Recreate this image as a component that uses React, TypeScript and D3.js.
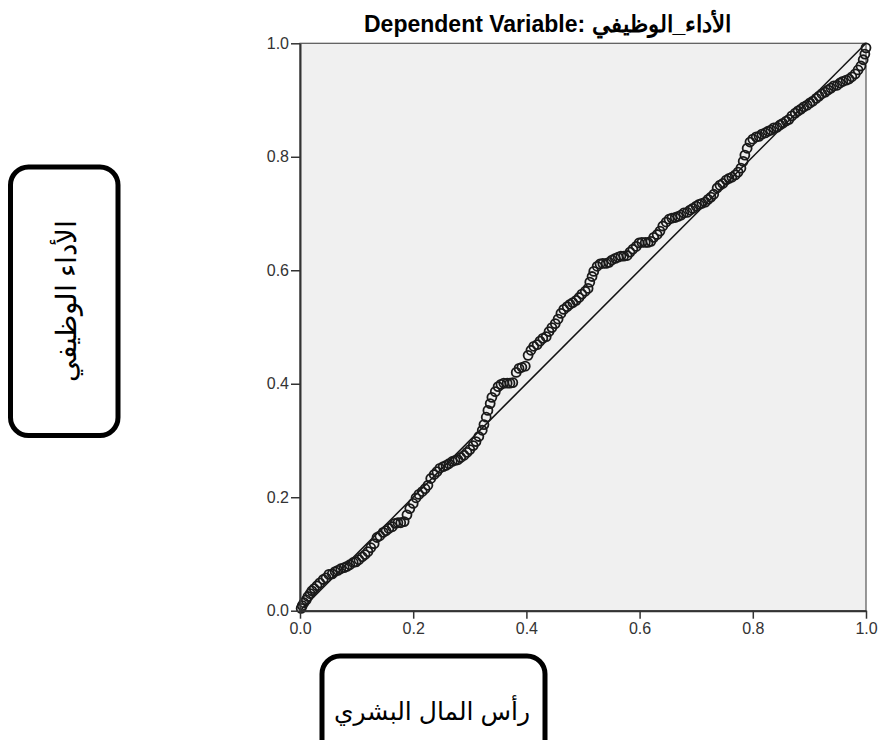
import React, { useEffect, useRef } from 'react'
import * as d3 from 'd3'

// tick values for both axes
const xTicks = [0.0, 0.2, 0.4, 0.6, 0.8, 1.0]
const yTicks = [0.0, 0.2, 0.4, 0.6, 0.8, 1.0]

const titleText = 'Dependent Variable: الأداء_الوظيفي'
const yBoxLabel = 'الأداء الوظيفي'
const xBoxLabel = 'رأس المال البشري'

const observedCum = [
  0.002, 0.004, 0.007, 0.011, 0.014, 0.018, 0.021, 0.025, 0.030, 0.035,
  0.041, 0.046, 0.051, 0.057, 0.062, 0.067, 0.072, 0.078, 0.083, 0.088,
  0.094, 0.099, 0.104, 0.110, 0.115, 0.120, 0.125, 0.131, 0.136, 0.141,
  0.147, 0.152, 0.157, 0.163, 0.168, 0.173, 0.178, 0.184, 0.189, 0.194,
  0.200, 0.205, 0.210, 0.216, 0.221, 0.226, 0.231, 0.237, 0.242, 0.247,
  0.253, 0.258, 0.263, 0.269, 0.274, 0.279, 0.284, 0.290, 0.295, 0.300,
  0.306, 0.311, 0.316, 0.322, 0.325, 0.329, 0.332, 0.336, 0.339, 0.345,
  0.350, 0.355, 0.360, 0.366, 0.371, 0.376, 0.382, 0.387, 0.392, 0.398,
  0.403, 0.408, 0.413, 0.419, 0.424, 0.429, 0.435, 0.440, 0.445, 0.451,
  0.456, 0.461, 0.466, 0.472, 0.477, 0.482, 0.488, 0.493, 0.498, 0.504,
  0.509, 0.512, 0.516, 0.519, 0.525, 0.530, 0.535, 0.541, 0.546, 0.551,
  0.557, 0.562, 0.567, 0.572, 0.578, 0.583, 0.588, 0.594, 0.599, 0.604,
  0.610, 0.615, 0.620, 0.625, 0.631, 0.636, 0.641, 0.647, 0.652, 0.657,
  0.663, 0.668, 0.673, 0.678, 0.684, 0.689, 0.694, 0.700, 0.705, 0.710,
  0.716, 0.721, 0.726, 0.731, 0.737, 0.742, 0.747, 0.753, 0.758, 0.763,
  0.769, 0.774, 0.779, 0.783, 0.786, 0.790, 0.795, 0.800, 0.806, 0.811,
  0.816, 0.822, 0.827, 0.832, 0.837, 0.843, 0.848, 0.853, 0.859, 0.864,
  0.869, 0.875, 0.880, 0.885, 0.890, 0.896, 0.901, 0.906, 0.912, 0.917,
  0.922, 0.928, 0.933, 0.938, 0.943, 0.949, 0.954, 0.959, 0.965, 0.970,
  0.975, 0.981, 0.986, 0.991, 0.995, 0.998, 1.000,
]

// expected cumulative probability (y)
const expectedCum = [
  0.004, 0.009, 0.014, 0.019, 0.025, 0.030, 0.035, 0.039, 0.044, 0.049,
  0.055, 0.058, 0.064, 0.065, 0.069, 0.071, 0.074, 0.076, 0.078, 0.081,
  0.085, 0.086, 0.090, 0.095, 0.099, 0.104, 0.111, 0.118, 0.129, 0.132,
  0.138, 0.141, 0.145, 0.148, 0.154, 0.155, 0.155, 0.157, 0.169, 0.180,
  0.189, 0.199, 0.205, 0.210, 0.215, 0.221, 0.233, 0.240, 0.245, 0.251,
  0.254, 0.256, 0.259, 0.263, 0.265, 0.266, 0.270, 0.274, 0.279, 0.284,
  0.291, 0.298, 0.307, 0.318, 0.328, 0.341, 0.353, 0.365, 0.376, 0.386,
  0.395, 0.399, 0.401, 0.401, 0.401, 0.402, 0.420, 0.427, 0.429, 0.431,
  0.450, 0.459, 0.466, 0.469, 0.475, 0.480, 0.483, 0.492, 0.499, 0.506,
  0.514, 0.524, 0.531, 0.536, 0.540, 0.543, 0.547, 0.552, 0.558, 0.563,
  0.568, 0.579, 0.589, 0.598, 0.607, 0.611, 0.612, 0.612, 0.614, 0.618,
  0.621, 0.623, 0.625, 0.625, 0.626, 0.632, 0.637, 0.642, 0.648, 0.649,
  0.649, 0.649, 0.651, 0.658, 0.663, 0.669, 0.678, 0.685, 0.690, 0.692,
  0.693, 0.695, 0.697, 0.701, 0.702, 0.706, 0.709, 0.713, 0.716, 0.718,
  0.720, 0.725, 0.729, 0.734, 0.745, 0.750, 0.753, 0.759, 0.762, 0.764,
  0.768, 0.773, 0.780, 0.792, 0.803, 0.815, 0.826, 0.831, 0.835, 0.836,
  0.840, 0.842, 0.845, 0.847, 0.851, 0.852, 0.856, 0.859, 0.863, 0.866,
  0.872, 0.877, 0.881, 0.884, 0.888, 0.891, 0.895, 0.898, 0.903, 0.907,
  0.911, 0.914, 0.918, 0.921, 0.925, 0.926, 0.930, 0.933, 0.935, 0.937,
  0.941, 0.946, 0.953, 0.960, 0.971, 0.981, 0.992,
]

// reference diagonal
const refLine = [0, 1]

function drawChart(el: SVGSVGElement) {
  const svg = d3.select(el)
  svg.selectAll('*').remove()

  const x = d3.scaleLinear().domain([0, 1]).range([300, 866])
  const y = d3.scaleLinear().domain([0, 1]).range([610.7, 43.3])
  const fmt = d3.format('.1f')

  // plot area
  svg.append('rect')
    .attr('x', x(0)).attr('y', y(1))
    .attr('width', x(1) - x(0)).attr('height', y(0) - y(1))
    .attr('fill', '#f0f0f0')
    .attr('stroke', '#555').attr('stroke-width', 1.2)

  // title
  svg.append('text')
    .attr('x', 364).attr('y', 32)
    .attr('text-anchor', 'start')
    .attr('font-family', 'Arial, "Liberation Sans", sans-serif')
    .attr('font-weight', 'bold')
    .attr('font-size', 23)
    .attr('fill', '#000')
    .text(titleText)

  // diagonal
  svg.append('line')
    .attr('x1', x(refLine[0])).attr('y1', y(refLine[0]))
    .attr('x2', x(refLine[1])).attr('y2', y(refLine[1]))
    .attr('stroke', '#111').attr('stroke-width', 1.5)

  // points
  svg.append('g')
    .selectAll('circle')
    .data(observedCum.map((d, i) => [d, expectedCum[i]]))
    .join('circle')
    .attr('cx', d => x(d[0]))
    .attr('cy', d => y(d[1]))
    .attr('r', 4.5)
    .attr('fill', 'none')
    .attr('stroke', '#1a1a1a')
    .attr('stroke-width', 1.8)

  // axes
  const xAxis = svg.append('g')
    .attr('transform', `translate(0,${y(0)})`)
    .call(d3.axisBottom(x).tickValues(xTicks).tickFormat(d => fmt(d as number)).tickSize(8).tickSizeOuter(0).tickPadding(4))
  const yAxis = svg.append('g')
    .attr('transform', `translate(${x(0)},0)`)
    .call(d3.axisLeft(y).tickValues(yTicks).tickFormat(d => fmt(d as number)).tickSize(9).tickSizeOuter(0).tickPadding(2))

  for (const ax of [xAxis, yAxis]) {
    ax.select('.domain').attr('stroke', '#333').attr('stroke-width', 2)
    ax.selectAll('.tick line').attr('stroke', '#333').attr('stroke-width', 1.5)
    ax.selectAll('.tick text')
      .attr('font-family', 'Arial, "Liberation Sans", sans-serif')
      .attr('font-size', 16)
      .attr('fill', '#333')
  }

  // left label box
  svg.append('rect')
    .attr('x', 10.5).attr('y', 167)
    .attr('width', 107.5).attr('height', 268.5)
    .attr('rx', 18)
    .attr('fill', '#fff').attr('stroke', '#000').attr('stroke-width', 5)
  svg.append('text')
    .attr('transform', 'translate(76,301) rotate(-90)')
    .attr('text-anchor', 'middle')
    .attr('font-family', '"Times New Roman", "DejaVu Serif", serif')
    .attr('font-size', 28)
    .attr('fill', '#000')
    .text(yBoxLabel)

  // bottom label box
  svg.append('rect')
    .attr('x', 322).attr('y', 656)
    .attr('width', 223).attr('height', 120)
    .attr('rx', 18)
    .attr('fill', '#fff').attr('stroke', '#000').attr('stroke-width', 5)
  svg.append('text')
    .attr('x', 432).attr('y', 720)
    .attr('text-anchor', 'middle')
    .attr('font-family', 'Arial, "DejaVu Sans", sans-serif')
    .attr('font-size', 25)
    .attr('fill', '#000')
    .text(xBoxLabel)
}

const App = () => {
  const ref = useRef<SVGSVGElement>(null)
  useEffect(() => {
    if (ref.current) drawChart(ref.current)
  }, [])

  return (
    <svg ref={ref} width={878} height={740}
      style={{ position: 'absolute', left: 0, top: 0, background: '#fff' }} />
  )
}

export default App
